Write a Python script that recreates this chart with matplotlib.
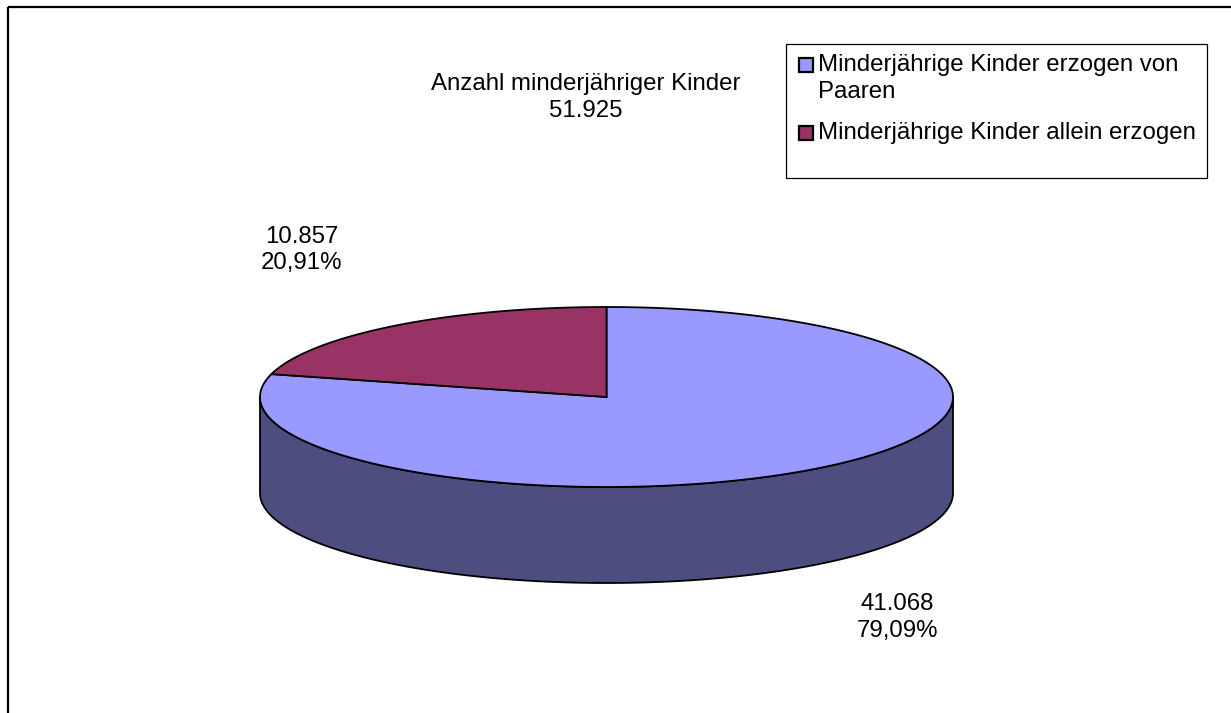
import numpy as np
import matplotlib
matplotlib.use("Agg")
import matplotlib.pyplot as plt
from matplotlib.patches import Polygon, Rectangle

# ---- data ----
categories = ["Minderjährige Kinder erzogen von\nPaaren", "Minderjährige Kinder allein erzogen"]
values = [41068, 10857]
total_label = "Anzahl minderjähriger Kinder\n51.925"
value_labels = ["41.068\n79,09%", "10.857\n20,91%"]
top_colors = ["#9999FF", "#993366"]
side_colors = ["#4D4D80", "#4D1A33"]

plt.rcParams['font.family'] = ['Liberation Sans', 'DejaVu Sans']
FS = 17.3
LS = 1.28

W, H = 1231, 713
fig = plt.figure(figsize=(W / 100, H / 100), dpi=100)
ax = fig.add_axes([0, 0, 1, 1])
ax.set_xlim(0, W)
ax.set_ylim(H, 0)
ax.axis('off')

# ---- pie geometry (layout) ----
cx, cy, a, b, depth = 606.5, 397.0, 346.5, 90.0, 96.0

def pt(theta_deg, dy=0.0):
    t = np.radians(theta_deg)
    return cx + a * np.cos(t), cy - b * np.sin(t) + dy

tot = sum(values)
fracs = [v / tot for v in values]
start1 = 90.0
end1 = start1 + 360 * fracs[1]
start0 = end1
end0 = 90.0 + 360.0

# ---- side walls (only front half visible: 180..360) ----
def side_poly(t0, t1, color):
    lo, hi = max(t0, 180), min(t1, 360)
    if hi <= lo:
        return
    ts = np.linspace(lo, hi, 200)
    top = [pt(t) for t in ts]
    bot = [pt(t, depth) for t in ts[::-1]]
    ax.add_patch(Polygon(top + bot, closed=True, facecolor=color,
                         edgecolor='black', lw=1.3, joinstyle='round', zorder=2))

for (t0, t1), col in [((start0, end0), side_colors[0]), ((start1, end1), side_colors[1])]:
    side_poly(t0, t1, col)
    side_poly(t0 - 360, t1 - 360, col)

# ---- top faces ----
def top_wedge(t0, t1, color):
    ts = np.linspace(t0, t1, 400)
    pts = [(cx, cy)] + [pt(t) for t in ts]
    ax.add_patch(Polygon(pts, closed=True, facecolor=color, edgecolor='black',
                         lw=1.3, joinstyle='miter', zorder=3))

top_wedge(start0, end0, top_colors[0])
top_wedge(start1, end1, top_colors[1])

# ---- texts ----
ax.text(586, 97.5, total_label, ha='center', va='center', fontsize=FS,
        linespacing=LS, multialignment='center', zorder=5)
ax.text(302, 250, value_labels[1], ha='center', va='center', fontsize=FS,
        linespacing=LS, multialignment='center', zorder=5)
ax.text(897, 617.5, value_labels[0], ha='center', va='center', fontsize=FS,
        linespacing=LS, multialignment='center', zorder=5)

# ---- legend (manual) ----
ax.add_patch(Rectangle((786, 44), 421, 134, facecolor='white', edgecolor='black',
                       lw=0.9, zorder=4))
leg_y = [64.5, 133]
for i, (lab, col) in enumerate(zip(categories, top_colors)):
    ax.add_patch(Rectangle((799, leg_y[i] - 7), 14, 14, facecolor=col,
                           edgecolor='black', lw=1.6, zorder=5))
    ax.text(818, leg_y[i] - 10.5, lab, ha='left', va='top', fontsize=FS,
            linespacing=LS, zorder=5)

# ---- outer frame (top and left lines) ----
ax.plot([7.5, W], [6.5, 6.5], color='black', lw=1.6, solid_capstyle='butt', zorder=6)
ax.plot([7.5, 7.5], [6.5, H], color='black', lw=1.6, solid_capstyle='butt', zorder=6)

fig.savefig("out.png", dpi=100, facecolor='white')
